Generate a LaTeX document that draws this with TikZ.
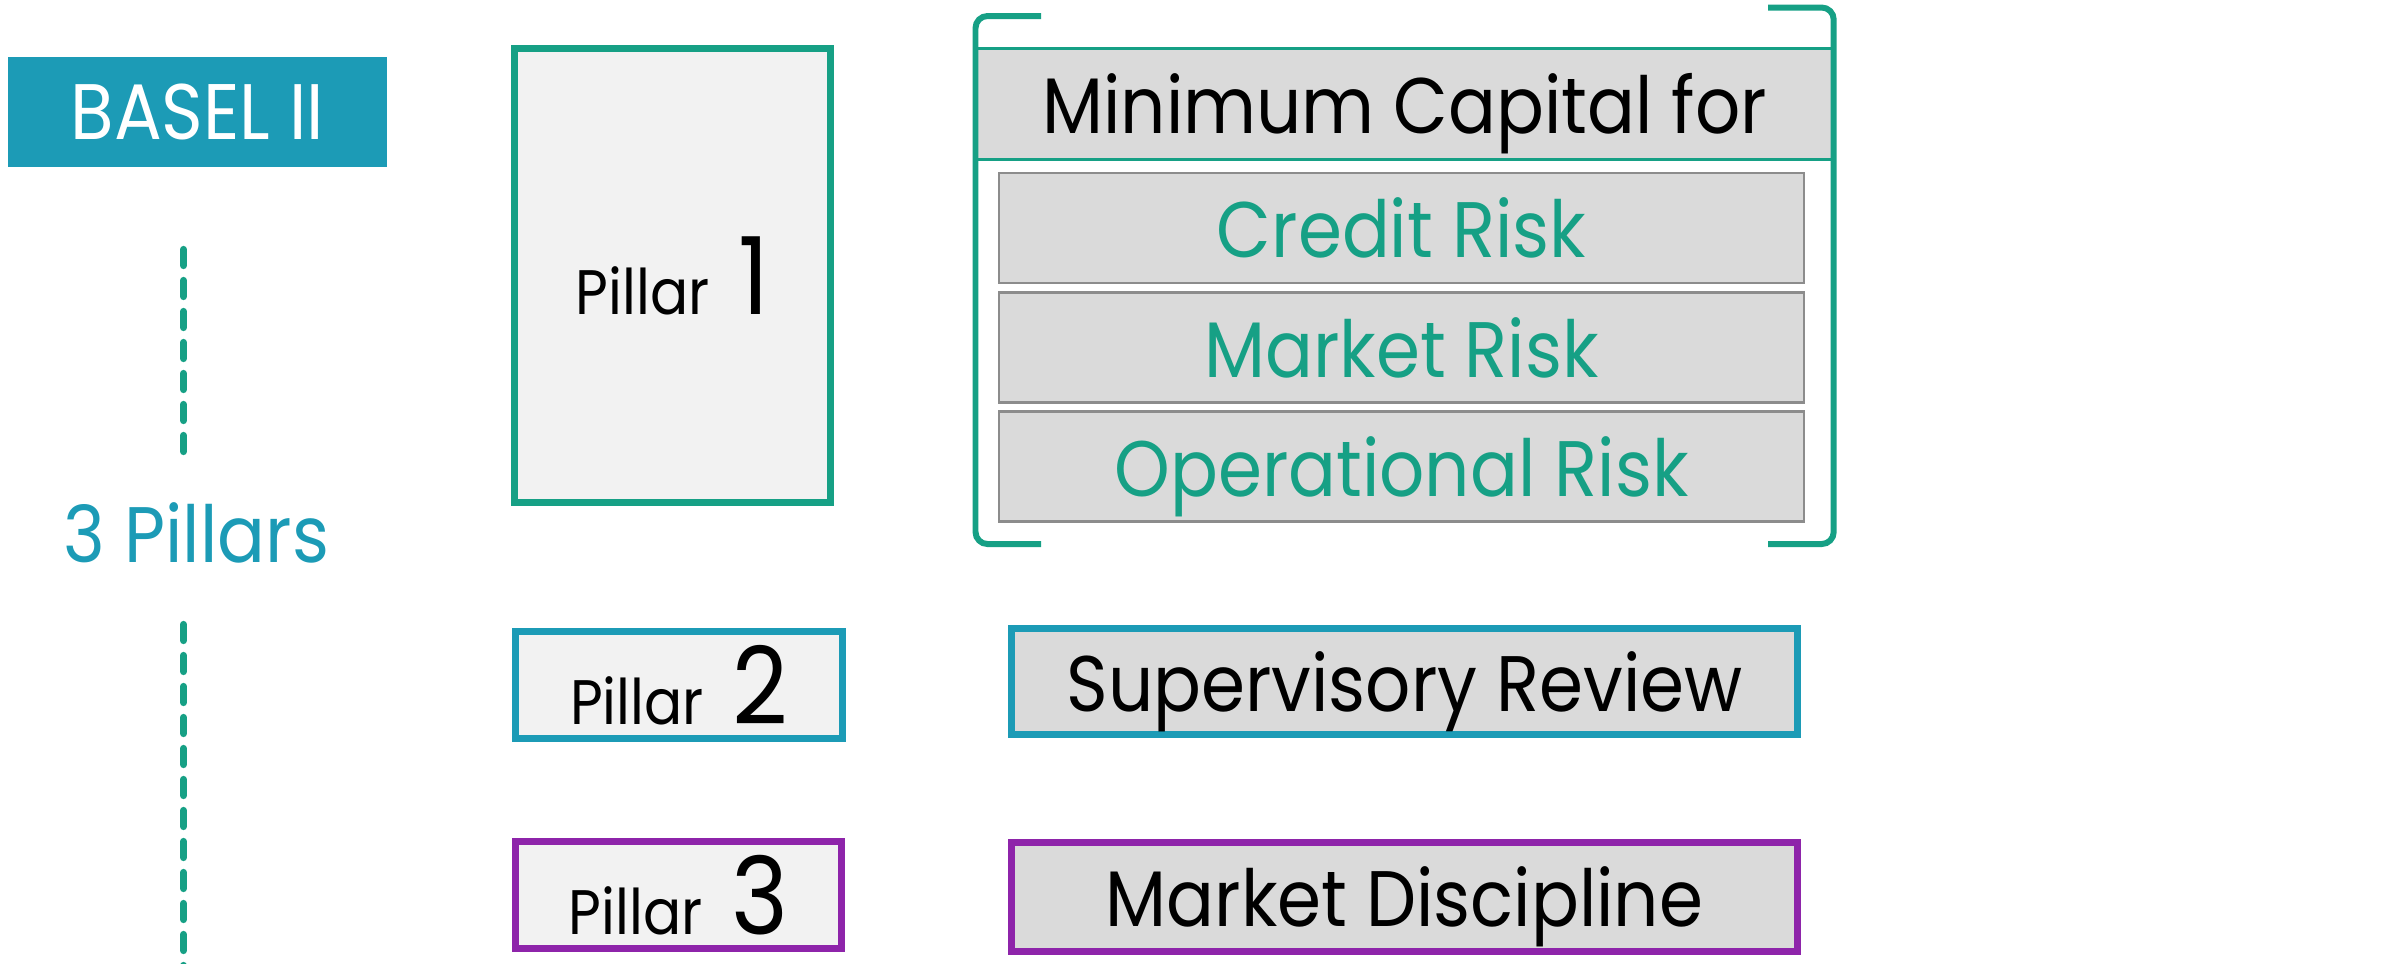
\documentclass[tikz,border=0pt]{standalone}
\usepackage{xcolor}
\usepackage{fontspec}
\setmainfont{Poppins}[FakeStretch=0.9]
\usepackage{tikz}
\usetikzlibrary{positioning}

\definecolor{baselblue}{HTML}{1C9BB6}
\definecolor{pillargreen}{HTML}{16A085}
\definecolor{pillarpurple}{HTML}{8E24AA}
\definecolor{boxgray}{HTML}{DADADA}
\definecolor{boxlight}{HTML}{F2F2F2}
\definecolor{edgegray}{HTML}{8C8C8C}

\begin{document}
\begin{tikzpicture}[
		pillarbox/.style={draw, line width=2pt, fill=boxlight, inner sep=0pt, text depth=0pt},
		riskbox/.style={draw=edgegray, line width=0.6pt, fill=boxgray, inner sep=0pt, text depth=0pt,
			minimum width=8.05cm, minimum height=1.10cm, text=pillargreen, font=\fontsize{22.4}{26}\selectfont},
		topicbox/.style={draw, line width=2pt, fill=boxgray, inner sep=0pt, text depth=0pt,
			minimum width=7.86cm, font=\fontsize{22.4}{26}\selectfont},
		dashline/.style={draw=pillargreen, line width=2.07pt, line cap=round, dash pattern=on 0.16cm off 0.15cm},
		bracket/.style={draw=pillargreen, line width=1.7pt, rounded corners=0.12cm}
	]
		\useasboundingbox (0,0) rectangle (24.04,-9.63);
		\newcommand{\pillarname}[1]{{\fontsize{17.9}{20}\selectfont Pillar}\hspace{8pt}{\fontsize{30.6}{34}\selectfont #1}}

		% Title and side label
		\node[fill=baselblue, text=white, minimum width=3.79cm, minimum height=1.10cm, inner sep=0pt,
			font=\fontsize{22.4}{26}\selectfont] (basel) at (1.975,-1.12) {BASEL II};
		\node[anchor=base, text=baselblue, inner sep=0pt, font=\fontsize{22.4}{26}\selectfont] (pillars) at (1.965,-5.62) {3 Pillars};

		% Dashed guide line, above and below the label
		\coordinate (dashA) at (1.835,-2.495);
		\coordinate (dashB) at (1.835,-4.575);
		\coordinate (dashC) at (1.835,-6.245);
		\coordinate (dashD) at (1.835,-9.80);
		\draw[dashline] (dashA) -- (dashB);
		\draw[dashline] (dashC) -- (dashD);

		% Pillar boxes
		\node[pillarbox, draw=pillargreen, minimum width=3.16cm, minimum height=4.54cm] (p1) at (6.725,-2.755) {\pillarname{1}};
		\node[pillarbox, draw=baselblue, minimum width=3.27cm, minimum height=1.07cm] (p2) at (6.79,-6.85) {\pillarname{2}};
		\node[pillarbox, draw=pillarpurple, minimum width=3.26cm, minimum height=1.07cm] (p3) at (6.785,-8.95) {\pillarname{3}};

		% Pillar 1 contents
		\node[fill=boxgray, draw=pillargreen, line width=0.85pt, minimum width=8.58cm, minimum height=1.11cm,
			inner sep=0pt, text depth=0pt, font=\fontsize{22.4}{26}\selectfont] (capital) at (14.046,-1.035) {Minimum Capital for};
		\node[riskbox] (credit) at (14.015,-2.28) {Credit Risk};
		\node[riskbox] (market) at (14.015,-3.475) {Market Risk};
		\node[riskbox] (operational) at (14.015,-4.665) {Operational Risk};

		% Brackets round the Pillar 1 contents
		\draw[bracket] (10.41,-0.16) -- (9.755,-0.16) -- (9.755,-5.44) -- (10.41,-5.44);
		\draw[bracket] (17.68,-0.075) -- (18.337,-0.075) -- (18.337,-5.44) -- (17.68,-5.44);

		% Pillar 2 and 3 contents
		\node[topicbox, draw=baselblue, minimum height=1.06cm] (review) at (14.045,-6.815) {Supervisory Review};
		\node[topicbox, draw=pillarpurple, minimum height=1.09cm] (discipline) at (14.045,-8.97) {Market Discipline};

	\end{tikzpicture}
\end{document}
